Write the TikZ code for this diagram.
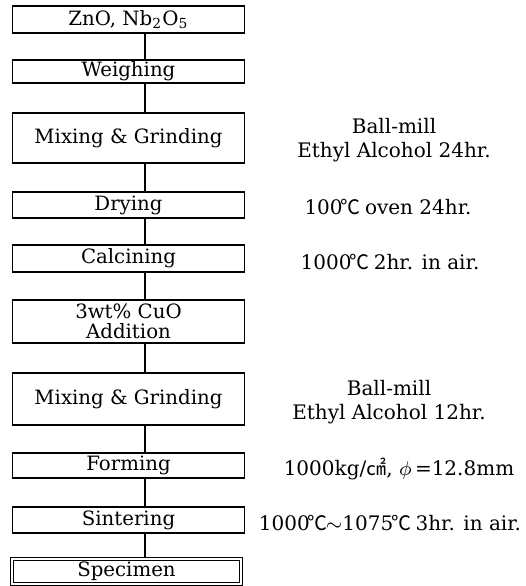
\documentclass[tikz,border=0pt]{standalone}
\usepackage{fontspec}
\setmainfont{DejaVu Serif}
\newfontfamily\cjk{Noto Sans CJK KR}
\usetikzlibrary{positioning}

\newcommand{\degc}{\makebox[0.8em]{\cjk ℃}}
\newcommand{\sqcm}{{\cjk ㎠}}

\tikzset{
  stepbox/.style={draw, line width=0.5pt, minimum width=92.8pt,
    inner sep=0pt, align=center,
    font=\fontsize{7.9}{7.8}\selectfont},
  note/.style={inner sep=0pt, align=center,
    font=\fontsize{8}{9.6}\selectfont},
  flow/.style={line width=0.5pt}
}

\begin{document}
\begin{tikzpicture}[x=0.4pt,y=-0.4pt]

  \useasboundingbox (0,0) rectangle (526,586);

  % 縦の流れ線の位置
  \coordinate (spine) at (145,0);

  % 工程の箱
  \node[stepbox, minimum height=10.8pt] (raw)   at (128.5,19.5)  {ZnO, Nb\textsubscript{2}O\textsubscript{5}};
  \node[stepbox, minimum height=9.2pt]  (weigh) at (128.5,71.5)  {Weighing};
  \node[stepbox, minimum height=20pt]   (mixa)  at (128.5,138)   {Mixing \& Grinding};
  \node[stepbox, minimum height=10.4pt] (dry)   at (128.5,205)   {Drying};
  \node[stepbox, minimum height=10.8pt] (calc)  at (128.5,258.5) {Calcining};
  \node[stepbox, minimum height=17.2pt] (cuo)   at (128.5,321.5) {3wt\% CuO\\Addition};
  \node[stepbox, minimum height=20.8pt] (mixb)  at (128.5,399)   {Mixing \& Grinding};
  \node[stepbox, minimum height=10pt]   (form)  at (128.5,465.5) {Forming};
  \node[stepbox, minimum height=10.4pt] (sint)  at (128.5,520)   {Sintering};
  \node[stepbox, minimum height=10pt, minimum width=91.6pt,
    double, double distance=0.9pt]      (spec)  at (126.5,571.5) {Specimen};

  % 工程をつなぐ線
  \draw[flow] (raw.south -| spine)   -- (weigh.north -| spine);
  \draw[flow] (weigh.south -| spine) -- (mixa.north -| spine);
  \draw[flow] (mixa.south -| spine)  -- (dry.north -| spine);
  \draw[flow] (dry.south -| spine)   -- (calc.north -| spine);
  \draw[flow] (calc.south -| spine)  -- (cuo.north -| spine);
  \draw[flow] (cuo.south -| spine)   -- (mixb.north -| spine);
  \draw[flow] (mixb.south -| spine)  -- (form.north -| spine);
  \draw[flow] (form.south -| spine)  -- (sint.north -| spine);
  \draw[flow] (sint.south -| spine)  -- (spec.north -| spine);

  % 条件
  \node[note] (mixacond)  at (394,140)   {Ball-mill\\Ethyl Alcohol 24hr.};
  \node[note] (drycond)   at (388,207)   {100\degc{} oven 24hr.};
  \node[note] (calccond)  at (390,262)   {1000\degc{} 2hr. in air.};
  \node[note] (mixbcond)  at (389,402)   {Ball-mill\\Ethyl Alcohol 12hr.};
  \node[note] (formcond)  at (399,469)   {1000kg/\sqcm, $\phi$\,=12.8mm};
  \node[note] (sintcond)  at (390,523)   {1000\degc$\sim$1075\degc{} 3hr. in air.};

\end{tikzpicture}
\end{document}
